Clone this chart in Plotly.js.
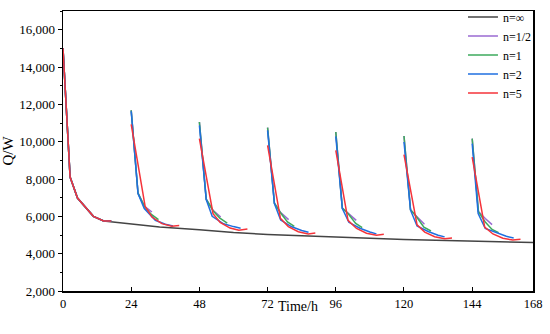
<!DOCTYPE html>
<html>
<head>
<meta charset="utf-8">
<script src="https://cdn.plot.ly/plotly-3.0.1.min.js"></script>
<style>html,body{margin:0;padding:0;background:#fff;}#chart{width:550px;height:334px;}</style>
</head>
<body>
<div id="chart"></div>
<script>
// Shared start-up segment (first 17 h, all cases coincide)
const initT = [0, 2.5, 5.1, 7.8, 10.7, 14.3, 17];
const initQ = [15000, 8106, 6981, 6499, 6001, 5749, 5749];

// n = infinity (continuous operation)
const infT = [0, 2.5, 5.1, 7.8, 10.7, 14.3, 17, 24, 30, 34, 48, 60, 72, 84, 96, 108, 120, 132, 144, 156, 165.4];
const infQ = [15000, 8106, 6981, 6499, 6001, 5749, 5700, 5600, 5500, 5430, 5280, 5130, 5030, 4950, 4880, 4820, 4765, 4720, 4680, 4630, 4592];

// n = 1/2
const halfT = [24, 26.4, 28.7, 31.3, null, 48, 50.4, 52.8, 55.5, null, 72, 74.4, 76.6, 79.4, null,
               96, 98.3, 100.3, 103.2, null, 120, 122.3, 124.4, 127.2, null, 144, 146.2, 148.6, 151.0];
const halfQ = [11680, 7240, 6540, 6231, null, 11052, 6920, 6320, 5964, null, 10752, 6700, 6200, 5824, null,
               10516, 6440, 6170, 5787, null, 10302, 6350, 6000, 5573, null, 10163, 6260, 5880, 5556];

// n = 1
const oneT = [24, 26.4, 28.7, 31.1, 33.6, null, 48, 50.4, 52.8, 55.2, 57.8, null, 72, 74.4, 76.6, 79, 81.4, null,
              96, 98.3, 100.3, 103, 105.3, null, 120, 122.3, 124.4, 127, 129.5, null, 144, 146.2, 148.6, 151, 153.3];
const oneQ = [11680, 7240, 6520, 6100, 5824, null, 11052, 6920, 6300, 5900, 5642, null, 10752, 6700, 6180, 5700, 5466, null,
              10516, 6440, 6150, 5620, 5396, null, 10302, 6350, 5980, 5420, 5214, null, 10163, 6250, 5700, 5300, 5128];

// n = 2
const twoT = [24, 26.4, 28.6, 32.5, 36, 38.7, null, 48, 50.4, 52.5, 56.5, 60, 62.5, null, 72, 74.4, 76.6, 80.5, 84, 86.4, null,
              96, 98.3, 100.6, 104.5, 108, 110.3, null, 120, 122.3, 124.6, 128.5, 132, 134.3, null, 144, 146.1, 148.6, 152.5, 156, 158.6];
const twoQ = [11626, 7217, 6413, 5787, 5573, 5482, null, 10875, 6896, 6001, 5600, 5450, 5360, null, 10607, 6681, 5800, 5440, 5240, 5150, null,
              10286, 6413, 5680, 5360, 5160, 5060, null, 9981, 6330, 5480, 5190, 4990, 4900, null, 9895, 6146, 5350, 5130, 4930, 4840];

// n = 5
const fiveT = [24, 28.9, 31.3, 34.8, 38.3, 40.9, null, 48, 52.8, 55.3, 58.8, 61.9, 64.9, null, 72, 76.5, 79.3, 82.8, 86.3, 88.8, null,
               96, 100.3, 103.3, 106.8, 110.3, 112.9, null, 120, 124.6, 127.3, 130.8, 134.3, 136.9, null, 144, 148.4, 151.3, 154.8, 158.3, 161.0];
const fiveQ = [10929, 6537, 5964, 5610, 5465, 5503, null, 10163, 6146, 5670, 5370, 5251, 5321, null, 9804, 5900, 5450, 5175, 5060, 5107, null,
               9536, 5787, 5350, 5095, 4990, 5037, null, 9306, 5540, 5155, 4905, 4800, 4839, null, 9177, 5428, 5055, 4825, 4730, 4769];

const seriesNames = ['n=\u221E', 'n=1/2', 'n=1', 'n=2', 'n=5'];
const seriesColors = ['#444444', '#9a6ad2', '#3daa5c', '#1f6fe0', '#f5333a'];

const xTickVals = [0, 24, 48, 72, 96, 120, 144, 165.4];
const xTickText = ['0', '24', '48', '72', '96', '120', '144', '168'];

const withInit = (t, q) => [initT.concat([null], t), initQ.concat([null], q)];

const data = [
  [infT, infQ],
  withInit(halfT, halfQ),
  withInit(oneT, oneQ),
  withInit(twoT, twoQ),
  withInit(fiveT, fiveQ)
].map((d, i) => ({
  x: d[0], y: d[1], type: 'scatter', mode: 'lines', name: seriesNames[i],
  connectgaps: false,
  line: {color: seriesColors[i], width: 1.5}
}));

const font = 'Liberation Serif, Times New Roman, serif';
const layout = {
  width: 550, height: 334,
  margin: {l: 62.5, r: 17.3, t: 11, b: 43.3, autoexpand: false},
  paper_bgcolor: '#fff', plot_bgcolor: '#fff',
  font: {family: font, color: '#000', size: 13},
  showlegend: true,
  legend: {
    x: 0.851, y: 1.03, xanchor: 'left', yanchor: 'top',
    bgcolor: 'rgba(0,0,0,0)', borderwidth: 0,
    font: {family: font, size: 12, color: '#000'},
    itemwidth: 30
  },
  xaxis: {
    range: [0, 165.4], tickvals: xTickVals, ticktext: xTickText,
    ticks: 'inside', ticklen: 4, tickwidth: 1, tickcolor: '#000',
    showline: true, linecolor: '#000', linewidth: 1.5, mirror: true,
    showgrid: false, zeroline: false,
    tickfont: {family: font, size: 12.5, color: '#000'}
  },
  yaxis: {
    range: [2000, 17000], tick0: 2000, dtick: 2000, tickformat: ',d',
    ticks: 'outside', ticklen: 4, tickwidth: 1, tickcolor: '#000',
    minor: {dtick: 1000, tick0: 2000, ticks: 'outside', ticklen: 2, tickcolor: '#000'},
    showline: true, linecolor: '#000', linewidth: 1.5, mirror: true,
    showgrid: false, zeroline: false,
    tickfont: {family: font, size: 13, color: '#000'},
    title: {text: 'Q/W', font: {family: font, size: 15, color: '#000'}, standoff: 4}
  },
  annotations: [{
    text: 'Time/h', xref: 'paper', yref: 'paper', x: 0.5, y: 0,
    xanchor: 'center', yanchor: 'middle', yshift: -15, showarrow: false,
    font: {family: font, size: 14, color: '#000'}
  }]
};

Plotly.newPlot('chart', data, layout, {displayModeBar: false, staticPlot: true});
</script>
</body>
</html>
